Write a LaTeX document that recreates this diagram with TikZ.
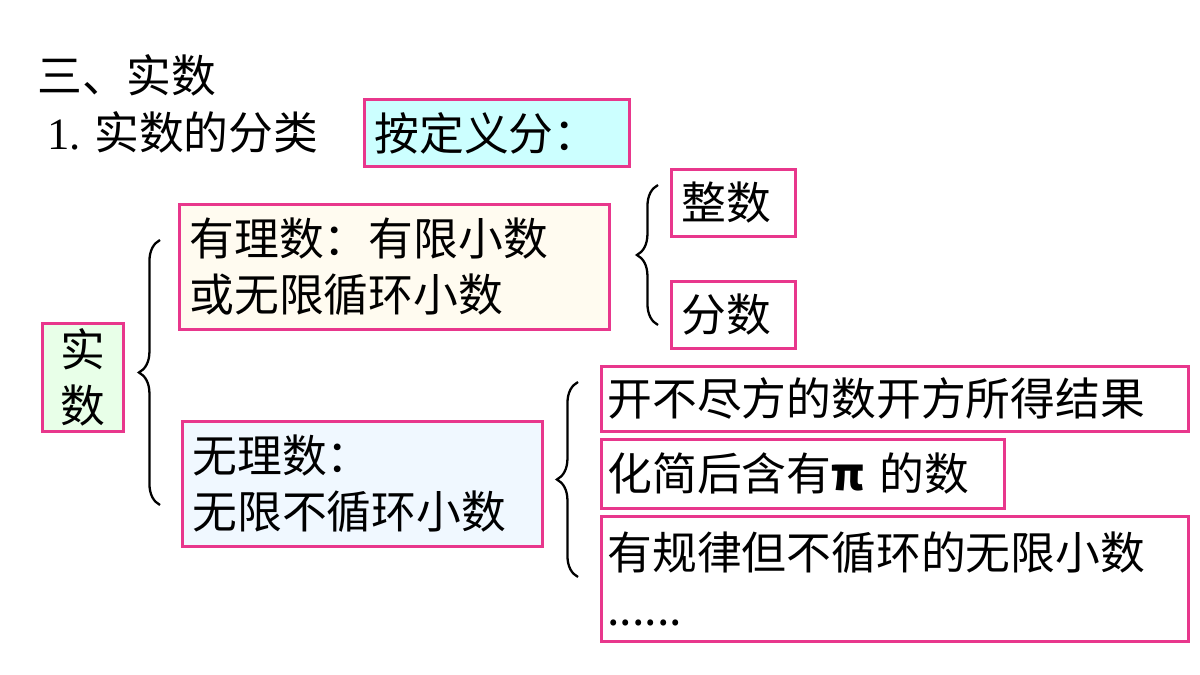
\documentclass[tikz,border=0pt]{standalone}
\usepackage{fontspec}
\setmainfont{Noto Sans CJK SC}
\newfontfamily\latinserif{Liberation Serif}
\usetikzlibrary{decorations.pathreplacing}
\definecolor{boxline}{HTML}{E8378C}
\definecolor{cyanfill}{HTML}{CCFFFF}
\definecolor{greenfill}{HTML}{E8FFE8}
\definecolor{creamfill}{HTML}{FFFBF0}
\definecolor{bluefill}{HTML}{F0F8FF}
\tikzset{
  kbox/.style={draw=boxline, line width=1.6pt, inner sep=5pt, align=left, anchor=north west, font=\fontsize{25.5}{32}\selectfont},
  kbrace/.style={decorate, decoration={brace, amplitude=12pt, mirror}, line width=1.3pt}
}
\begin{document}
\begin{tikzpicture}[x=0.02cm, y=-0.02cm]
\useasboundingbox (0,0) rectangle (1200,675);
% titles
\node[anchor=west, inner sep=0pt, font=\fontsize{25.5}{30}\selectfont] (title) at (37,75) {三、实数};
\node[anchor=west, inner sep=0pt, font=\fontsize{25.5}{30}\selectfont] (sub) at (47,132) {{\latinserif 1.} 实数的分类};
\node[kbox, fill=cyanfill, minimum width=265*0.02cm, minimum height=67*0.02cm, text width=245*0.02cm] (def) at (363,98) {按定义分：};
% left column
\node[kbox, fill=greenfill, minimum width=81*0.02cm, minimum height=108*0.02cm, align=center, inner sep=2pt] (real) at (41,322) {实\\数};
\node[kbox, fill=creamfill, minimum width=430*0.02cm, minimum height=125*0.02cm, text width=410*0.02cm] (rat) at (178,203) {有理数：有限小数\\或无限循环小数};
\node[kbox, fill=bluefill, minimum width=360*0.02cm, minimum height=125*0.02cm, text width=340*0.02cm] (irr) at (181,420) {无理数：\\无限不循环小数};
% right column
\node[kbox, fill=white, minimum width=124*0.02cm, minimum height=67*0.02cm, text width=104*0.02cm] (int) at (670,168) {整数};
\node[kbox, fill=white, minimum width=124*0.02cm, minimum height=67*0.02cm, text width=104*0.02cm] (frac) at (670,280) {分数};
\node[kbox, fill=white, minimum width=587*0.02cm, minimum height=65*0.02cm, text width=575*0.02cm, inner sep=3pt] (root) at (600,365) {开不尽方的数开方所得结果};
\node[kbox, fill=white, minimum width=403*0.02cm, minimum height=69*0.02cm, text width=391*0.02cm, inner sep=3pt] (pi) at (600,438) {化简后含有\textbf{π} 的数};
\node[kbox, fill=white, minimum width=587*0.02cm, minimum height=125*0.02cm, text width=575*0.02cm, inner sep=3pt] (rule) at (600,515) {有规律但不循环的无限小数\\......};
% braces
\coordinate (b1t) at (160,240); \coordinate (b1b) at (160,505);
\coordinate (b2t) at (658,185); \coordinate (b2b) at (658,325);
\coordinate (b3t) at (578,382); \coordinate (b3b) at (578,577);
\draw[kbrace] (b1t) -- (b1b);
\draw[kbrace] (b2t) -- (b2b);
\draw[kbrace] (b3t) -- (b3b);
\end{tikzpicture}
\end{document}
